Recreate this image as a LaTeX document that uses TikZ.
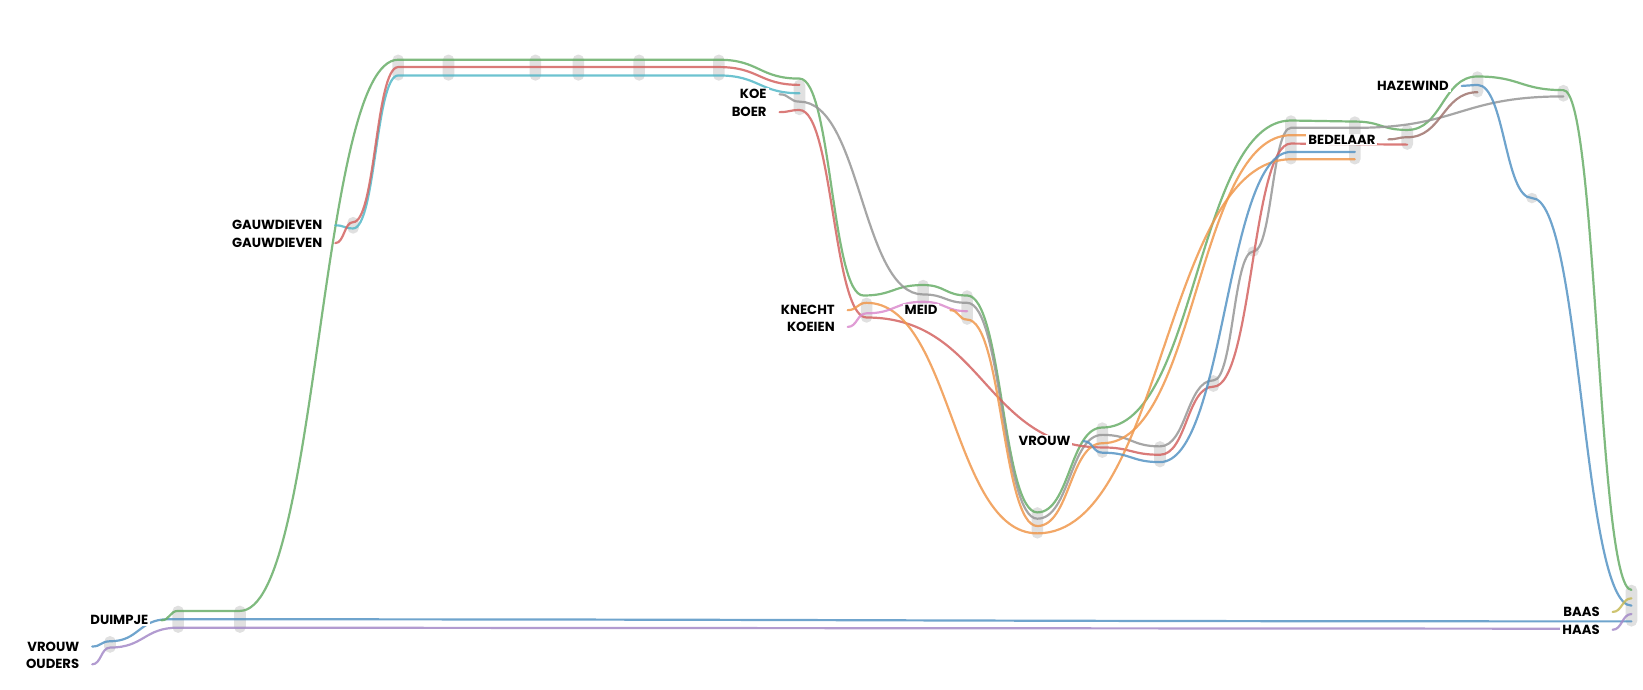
\documentclass[tikz,border=0pt]{standalone}
\usepackage{fontspec}
\setmainfont{Poppins}
\usetikzlibrary{calc,fit,backgrounds}

\definecolor{sgreen}{RGB}{104,174,104}
\definecolor{sred}{RGB}{212,100,98}
\definecolor{scyan}{RGB}{84,184,200}
\definecolor{sblue}{RGB}{86,148,196}
\definecolor{spurple}{RGB}{164,138,200}
\definecolor{sorange}{RGB}{240,152,76}
\definecolor{sgrey}{RGB}{150,150,150}
\definecolor{spink}{RGB}{218,140,206}
\definecolor{sbrown}{RGB}{160,116,110}
\definecolor{solive}{RGB}{198,186,88}

\begin{document}
\begin{tikzpicture}[
  x=0.524pt, y=-0.524pt,
  %--- character labels ---
  who/.style={anchor=east, font=\fontsize{6.6}{8}\selectfont\bfseries, fill=white,
    inner xsep=1pt, inner ysep=0.6pt, outer xsep=5.5pt, outer ysep=0pt},
  %--- event markers ---
  meet/.style={fill=black!12, draw=none, rounded corners=2.8pt,
    inner xsep=2.9pt, inner ysep=2.6pt},
  %--- story lines ---
  story/.style={line width=1.1pt, draw opacity=.85, line cap=round,
    to path={let \p1=(\tikztostart), \p2=(\tikztotarget) in
      .. controls ({(\x1+\x2)/2},\y1) and ({(\x1+\x2)/2},\y2) .. (\tikztotarget)}}
]
\useasboundingbox (0,0) rectangle (1568,658);

%% ── LABELS: first appearance of each character ─────────────────────────────
\node[who] (nVrouw)    at (88,617)   {VROUW};
\node[who] (nOuders)   at (88,634)   {OUDERS};
\node[who] (nDuimpje)  at (154,592)  {DUIMPJE};
\node[who] (nGauwA)    at (320,215)  {GAUWDIEVEN};
\node[who] (nGauwB)    at (320,232)  {GAUWDIEVEN};
\node[who] (nKoe)      at (744,90)   {KOE};
\node[who] (nBoer)     at (744,107)  {BOER};
\node[who] (nKnecht)   at (809,296)  {KNECHT};
\node[who] (nKoeien)   at (809,312)  {KOEIEN};
\node[who] (nMeid)     at (907,296)  {MEID};
\node[who] (nVrouwB)   at (1034,421) {VROUW};
\node[who] (nBedelaar) at (1325,133) {BEDELAAR};
\node[who] (nHazewind) at (1395,82)  {HAZEWIND};
\node[who] (nBaas)     at (1539,584) {BAAS};
\node[who] (nHaas)     at (1539,601) {HAAS};

\begin{scope}[on background layer]
%% ── EVENTS: grey markers where lines meet ──────────────────────────────────
\foreach \x/\ya/\yb [count=\i] in {105/612/618, 170/583/599, 229/583/599,
    337/212/218, 380/57/72, 428/57/72, 511/57/72, 552/57/72, 610/57/72,
    686/57/72, 763/81/105, 827/289/303, 881/272/288, 923/282/305,
    990/489/509, 1052/408/432, 1107/426/441, 1158/363/369, 1196/240/240,
    1232/115/152, 1293/116/152, 1343/124/138, 1410/73/88, 1492/86/92,
    1462/189/189, 1557/563/593}
  \node[meet, fit={(\x,\ya) (\x,\yb)}] (ev\i) {};

%% ── LINES: home and family ─────────────────────────────────────────────────
\draw[story, spurple] (nOuders.east) to (105,618) to (170,599) to (1505,600);
\draw[story, sblue] (nVrouw.east) to (105,612) to (160,591) to (1557,593);
\draw[story, sgreen] (nDuimpje.east) to (170,583) to (229,583) to (380,57)
  to (686,57) to (763,75) to (824,282) to (881,272) to (923,282) to (990,489)
  to (1052,408) to (1232,115) to (1293,116) to (1343,124) to (1410,73)
  to (1492,86) to (1557,563);

%% ── LINES: thieves ─────────────────────────────────────────────────────────
\draw[story, scyan] (nGauwA.east) to (337,218) to (380,72) to (686,72) to (763,89);
\draw[story, sred] (nGauwB.east) to (337,212) to (380,64) to (686,64) to (763,81);

%% ── LINES: farm ────────────────────────────────────────────────────────────
\draw[story, sgrey] (nKoe.east) to (763,97) to (881,281) to (923,289)
  to (990,495) to (1052,415) to (1107,426) to (1158,363) to (1196,240)
  to (1232,122) to (1293,122) to (1492,92);
\draw[story, sred] (nBoer.east) to (763,105) to (827,303) to (1052,427)
  to (1107,434) to (1158,369) to (1232,137) to (1343,138);
\draw[story, sorange] (nKnecht.east) to (827,289) to (990,509) to (1232,152)
  to (1293,152);
\draw[story, spink] (nKoeien.east) to (827,299) to (881,288) to (923,297);
\draw[story, sorange] (nMeid.east) to (923,305) to (990,502) to (1052,423)
  to (1232,129) to (1293,129);
\draw[story, sblue] (nVrouwB.east) to (1052,432) to (1107,441) to (1232,145)
  to (1293,145);

%% ── LINES: the road back ───────────────────────────────────────────────────
\draw[story, sbrown] (nBedelaar.east) to (1343,131) to (1410,88);
\draw[story, sblue] (nHazewind.east) to (1410,81) to (1462,189) to (1557,578);
\draw[story, solive] (nBaas.east) to (1557,571);
\draw[story, spurple] (nHaas.east) to (1557,586);
\end{scope}
\end{tikzpicture}
\end{document}
